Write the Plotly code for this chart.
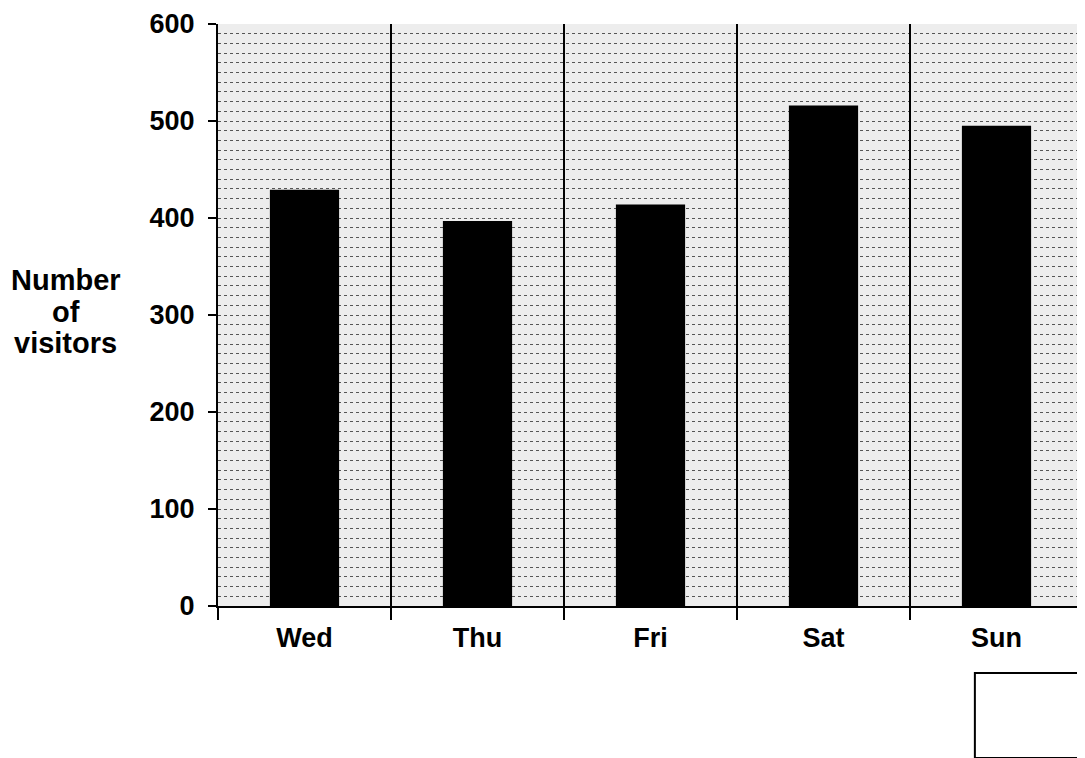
import plotly.graph_objects as go

days = ["Wed", "Thu", "Fri", "Sat", "Sun"]
visitors = [429, 397, 414, 516, 495]
y_ticks = [0, 100, 200, 300, 400, 500, 600]
y_title_lines = ["Number", "of", "visitors"]

fig = go.Figure()
fig.add_trace(go.Bar(
    x=days, y=visitors,
    marker=dict(color="#000000", line=dict(width=0)),
    width=0.40, showlegend=False,
))

FONT = "Liberation Sans, Arial, sans-serif"

annotations = []
for i, t in enumerate(y_title_lines):
    annotations.append(dict(
        text="<b>%s</b>" % t,
        xref="paper", yref="paper", x=-0.176, y=0.560 - i * 0.054,
        xanchor="center", yanchor="middle", showarrow=False,
        font=dict(size=29, family=FONT, color="black"),
    ))

fig.update_layout(
    width=1077, height=750,
    margin=dict(l=210, r=2, t=16, b=152),
    paper_bgcolor="white",
    plot_bgcolor="#ededed",
    font=dict(family=FONT, color="black", size=27),
    xaxis=dict(
        type="category",
        tickson="boundaries",
        showgrid=True, gridcolor="black", gridwidth=2,
        ticks="outside", ticklen=12, tickwidth=2, tickcolor="black",
        showline=True, linecolor="black", linewidth=2,
        ticklabelstandoff=7,
        tickfont=dict(size=27, family=FONT, weight="bold"),
    ),
    yaxis=dict(
        range=[0, 600],
        tickvals=y_ticks,
        showgrid=False,
        ticks="outside", ticklen=8, tickwidth=2, tickcolor="black",
        showline=True, linecolor="black", linewidth=2,
        ticklabelstandoff=8,
        tickfont=dict(size=27, family=FONT, weight="bold"),
        zeroline=False,
        minor=dict(dtick=10, showgrid=True, gridcolor="#555555",
                   griddash="dot", gridwidth=1, ticks=""),
    ),
    annotations=annotations,
    shapes=[dict(
        type="rect", xref="paper", yref="paper",
        x0=0.875, x1=1.02, y0=-0.261, y1=-0.115,
        line=dict(color="black", width=2), fillcolor="rgba(0,0,0,0)",
    )],
)

fig.write_html("out.html")
